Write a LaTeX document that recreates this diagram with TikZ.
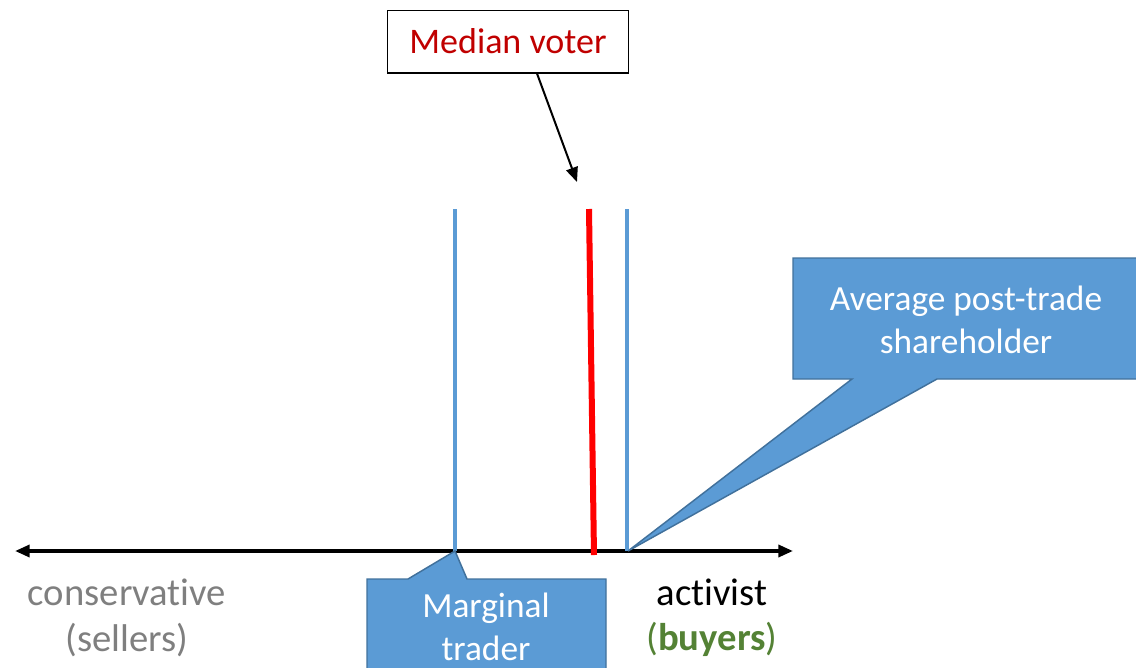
\documentclass[tikz,border=0pt]{standalone}
\usepackage{fontspec}
\setmainfont{Carlito}[Ligatures={NoCommon,NoContextual,NoRare}]
\usetikzlibrary{arrows.meta}
\definecolor{calloutfill}{HTML}{5B9BD5}
\definecolor{calloutline}{HTML}{41719C}
\definecolor{medianred}{HTML}{C00000}
\definecolor{sellergray}{HTML}{7F7F7F}
\definecolor{buyergreen}{HTML}{548235}
\tikzset{
  axisline/.style={line width=2.6pt, {Triangle[length=11pt,width=9pt]}-{Triangle[length=11pt,width=9pt]}},
  blueline/.style={line width=2.5pt, calloutfill},
  callout/.style={fill=calloutfill, draw=calloutline, line width=1.1pt, line join=miter},
  calloutlabel/.style={text=white, align=center, inner sep=0pt, font=\fontsize{26.5}{32}\selectfont},
  axislabel/.style={align=center, inner sep=0pt, font=\fontsize{29}{34}\selectfont}
}
\begin{document}
\begin{tikzpicture}[x=0.75pt,y=-0.75pt]
\useasboundingbox (0,0) rectangle (1136,668);
\clip (0,0) rectangle (1136,668);

%% 横轴
\coordinate (axleft) at (15,551);
\coordinate (axright) at (793,551);
\draw[axisline] (axleft) -- (axright);

%% 竖线
\draw[blueline] (455,209) -- (455,551);
\draw[blueline] (627,209) -- (627,551);
\draw[line width=4.5pt, red] (589,209) -- (594,555);

%% 对话框
\draw[callout] (793,258) -- (1140,258) -- (1140,379) -- (937,379)
               -- (628,551) -- (852,379) -- (793,379) -- cycle;
\node[calloutlabel] (avg) at (966,320) {Average post-trade\\shareholder};

\draw[callout] (367,579) -- (408,579) -- (455,551) -- (467,579)
               -- (606,579) -- (606,675) -- (367,675) -- cycle;
\node[calloutlabel] (marg) at (486,627) {Marginal\\trader};

%% 中位选民
\node[draw, line width=1pt, minimum width=181pt, minimum height=47pt,
      text=medianred, font=\fontsize{27}{32}\selectfont] (median) at (508,41.5) {Median voter};
\coordinate (mvtip) at (577,182);
\draw[line width=1.5pt, -{Triangle[length=11pt,width=9pt]}] ([xshift=21.75pt]median.south) -- (mvtip);

%% 轴标签
\node[axislabel, text=sellergray] (cons) at (127,618) {conservative\\(sellers)};
\node[axislabel] (act) at (712,618) {activist\\\textcolor{buyergreen}{(\textbf{buyers})}};
\end{tikzpicture}
\end{document}
